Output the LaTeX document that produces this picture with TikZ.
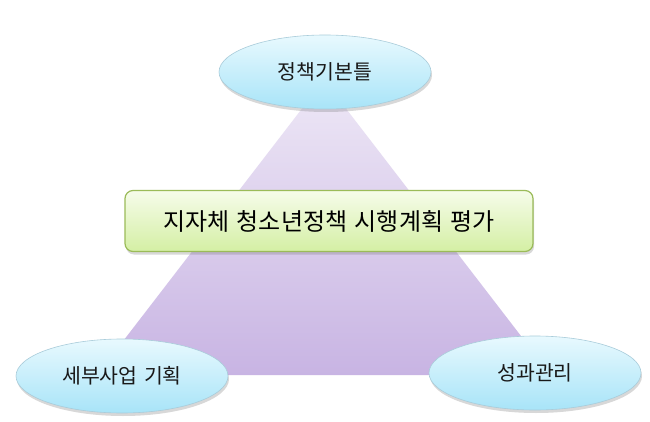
\documentclass[tikz,border=0pt]{standalone}
\usepackage{fontspec}
\newfontfamily\kr{Noto Sans CJK KR}
\newfontfamily\krwide[WordSpace=1.4]{Noto Sans CJK KR}
\usetikzlibrary{shapes.geometric,shadows,shadings}
\definecolor{elltop}{HTML}{E8F9FE}
\definecolor{ellbot}{HTML}{A8E4F8}
\definecolor{ellline}{HTML}{A9CCDA}
\definecolor{tritop}{HTML}{EEE8F6}
\definecolor{tribot}{HTML}{C8B4E3}
\definecolor{boxtop}{HTML}{F6FCEA}
\definecolor{boxbot}{HTML}{D4EFA4}
\definecolor{boxline}{HTML}{9BBB59}
\tikzset{
  ellnode/.style={ellipse, minimum width=212pt, minimum height=74pt, inner sep=0pt,
    top color=elltop, bottom color=ellbot, draw=ellline, line width=0.6pt,
    drop shadow={shadow xshift=1pt, shadow yshift=-3pt, opacity=0.25, fill=black!60},
    font=\kr\fontsize{20.5}{24}\selectfont, text=black!90},
  boxnode/.style={rectangle, rounded corners=8pt, minimum width=408pt, minimum height=61pt,
    inner sep=0pt, top color=boxtop, bottom color=boxbot, draw=boxline, line width=1.2pt,
    drop shadow={shadow xshift=1pt, shadow yshift=-3pt, opacity=0.25, fill=black!60},
    font=\krwide\fontsize{24}{28}\selectfont, text=black}
}
\begin{document}
\begin{tikzpicture}[x=1pt,y=-1pt]
\fill[white] (0,0) rectangle (650,422);
\useasboundingbox (0,0) rectangle (650,422);
% pyramid
\coordinate (apex) at (324,80);
\coordinate (bl) at (97,375);
\coordinate (br) at (551,375);
\shade[top color=tritop, bottom color=tribot, shading angle=0] (apex) -- (br) -- (bl) -- cycle;
% nodes
\node[ellnode] (top) at (325,72) {정책기본틀};
\node[ellnode] (left) at (122,376) {세부사업 기획};
\node[ellnode] (right) at (535,373) {성과관리};
\node[boxnode] (center) at (329,221) {지자체 청소년정책 시행계획 평가};
\end{tikzpicture}
\end{document}
